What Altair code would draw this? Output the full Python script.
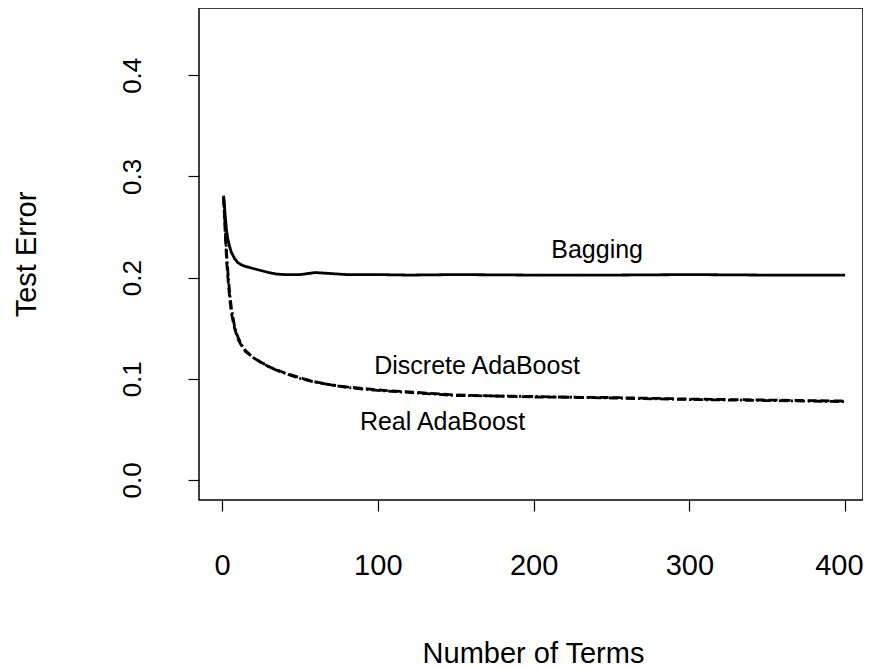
import altair as alt
import pandas as pd

# Number of boosting / bagging terms
terms = [1, 2, 3, 4, 5, 6, 8, 10, 12, 15, 20, 25, 30, 35, 40, 50, 60, 70, 80,
         100, 120, 150, 200, 250, 300, 350, 400]

bagging = [0.281, 0.262, 0.245, 0.236, 0.230, 0.225, 0.219, 0.215, 0.213, 0.211,
           0.209, 0.207, 0.205, 0.2035, 0.203, 0.203, 0.205, 0.204, 0.203,
           0.203, 0.2025, 0.203, 0.2025, 0.2025, 0.203, 0.2025, 0.2025]

discrete_ada = [0.280, 0.245, 0.215, 0.195, 0.178, 0.165, 0.150, 0.140, 0.134, 0.127,
                0.121, 0.116, 0.112, 0.109, 0.106, 0.101, 0.097, 0.094, 0.092,
                0.089, 0.087, 0.084, 0.082, 0.0815, 0.080, 0.079, 0.078]

real_ada = [0.278, 0.250, 0.222, 0.200, 0.183, 0.170, 0.152, 0.142, 0.135, 0.128,
            0.121, 0.1165, 0.112, 0.1085, 0.1055, 0.1005, 0.0965, 0.094, 0.0915,
            0.0885, 0.0865, 0.0835, 0.0825, 0.081, 0.0795, 0.0785, 0.0775]

series_names = ["Bagging", "Discrete AdaBoost", "Real AdaBoost"]

label_text = ["Bagging", "Discrete AdaBoost", "Real AdaBoost"]
label_x = [240.8, 163.7, 141.6]
label_y = [0.219, 0.1047, 0.0494]

x_ticks = [0, 100, 200, 300, 400]
y_ticks = [0.0, 0.1, 0.2, 0.3, 0.4]

rows = []
for name, vals in zip(series_names, [bagging, discrete_ada, real_ada]):
    for t, v in zip(terms, vals):
        rows.append({"terms": t, "error": v, "method": name})
df = pd.DataFrame(rows)
labels_df = pd.DataFrame({"text": label_text, "x": label_x, "y": label_y})

FONT = "Liberation Sans"

x_scale = alt.Scale(domain=[-14.8, 411.5], nice=False, zero=False)
y_scale = alt.Scale(domain=[-0.0198, 0.4665], nice=False, zero=False)

lines = alt.Chart(df).mark_line(color="black", strokeWidth=2.8).encode(
    x=alt.X("terms:Q", scale=x_scale,
            axis=alt.Axis(values=x_ticks, title="Number of Terms", format="d",
                          grid=False, domain=False, tickColor="black",
                          tickSize=11, tickWidth=1.2,
                          labelFont=FONT, labelFontSize=29, labelColor="black",
                          labelBaseline="alphabetic", labelPadding=63,
                          labelFlush=20, labelFlushOffset=18,
                          titleFont=FONT, titleFontSize=29, titleFontWeight="normal",
                          titleColor="black", titleBaseline="alphabetic",
                          titleX=334, titleY=162)),
    y=alt.Y("error:Q", scale=y_scale,
            axis=alt.Axis(values=y_ticks, title="Test Error", format=".1f",
                          grid=False, domain=False, tickColor="black",
                          tickSize=11, tickWidth=1.2,
                          labelFont=FONT, labelFontSize=26, labelColor="black",
                          labelAngle=270, labelAlign="center",
                          labelBaseline="alphabetic", labelPadding=48,
                          labelFlush=False,
                          titleFont=FONT, titleFontSize=29, titleFontWeight="normal",
                          titleColor="black", titleAngle=270, titleAlign="center",
                          titleBaseline="alphabetic", titleX=-164, titleY=246)),
    strokeDash=alt.StrokeDash("method:N",
                              scale=alt.Scale(domain=series_names,
                                              range=[[1, 0], [9, 4], [9, 3, 2, 3]]),
                              legend=None),
    detail="method:N",
)

texts = alt.Chart(labels_df).mark_text(
    font=FONT, fontSize=25, color="black", align="center", baseline="alphabetic"
).encode(
    x=alt.X("x:Q", scale=x_scale),
    y=alt.Y("y:Q", scale=y_scale),
    text="text:N",
)

chart = alt.layer(lines, texts).properties(
    width=664, height=492,
    autosize=alt.AutoSizeParams(type="none"),
    padding={"left": 191, "top": 0, "right": 0, "bottom": 168},
    background="white",
).configure_view(stroke="black", strokeWidth=1.5)

chart.save("out.html", embed_options={"renderer": "svg", "actions": False})
